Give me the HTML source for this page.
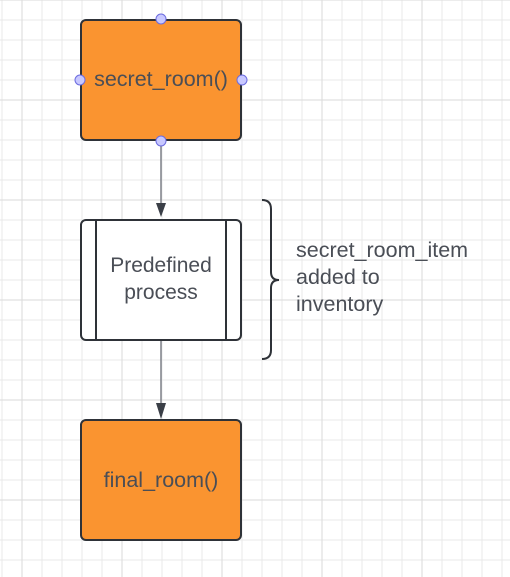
<!DOCTYPE html>
<html><head><style>
html,body{margin:0;padding:0;background:#fff;}
svg{display:block;}
text{font-family:"Liberation Sans",Arial,sans-serif;fill:#4a4e56;}
</style></head><body>
<svg width="510" height="577" viewBox="0 0 510 577" xmlns="http://www.w3.org/2000/svg">
<defs>
<pattern id="g" x="1.5" y="-0.5" width="20" height="20" patternUnits="userSpaceOnUse">
<path d="M0 0.5H20M0.5 0V20" stroke="#e8e8e8" stroke-width="1" fill="none"/>
</pattern>
<pattern id="G" x="21.5" y="-0.5" width="100" height="100" patternUnits="userSpaceOnUse">
<path d="M0 0.5H100M0.5 0V100" stroke="#dadada" stroke-width="1" fill="none"/>
</pattern>
</defs>
<rect width="510" height="577" fill="url(#g)"/>
<rect width="510" height="577" fill="url(#G)"/>

<line x1="161" y1="140" x2="161" y2="204" stroke="#7d8088" stroke-width="1.5"/>
<polygon points="156,203 166,203 161,217" fill="#3a3f47"/>
<line x1="161" y1="340" x2="161" y2="404" stroke="#7d8088" stroke-width="1.5"/>
<polygon points="156,403 166,403 161,419" fill="#3a3f47"/>

<rect x="81" y="20" width="160" height="120" rx="5" fill="#fa9430" stroke="#2e3238" stroke-width="2"/>
<text x="161" y="86" font-size="21.5" text-anchor="middle">secret_room()</text>
<g fill="#c8c8ff" stroke="#6b6bdf" stroke-width="1">
<circle cx="161" cy="19" r="5"/><circle cx="161" cy="141" r="5"/>
<circle cx="80" cy="80" r="5"/><circle cx="242" cy="80" r="5"/>
</g>

<rect x="81" y="220" width="160" height="120" rx="5" fill="#fff" stroke="#2e3238" stroke-width="2"/>
<line x1="96" y1="220" x2="96" y2="340" stroke="#2e3238" stroke-width="2"/>
<line x1="226" y1="220" x2="226" y2="340" stroke="#2e3238" stroke-width="2"/>
<text x="161" y="272" font-size="21" text-anchor="middle">Predefined</text>
<text x="161" y="299" font-size="21" text-anchor="middle">process</text>

<rect x="81" y="420" width="160" height="120" rx="5" fill="#fa9430" stroke="#2e3238" stroke-width="2"/>
<text x="161" y="487" font-size="21.5" text-anchor="middle">final_room()</text>

<path d="M262 200 Q271 200 271 209 V272 Q271 280 279 280 Q271 280 271 288 V350 Q271 359 262 359" fill="none" stroke="#2e3238" stroke-width="2"/>
<text x="296" y="257" font-size="21.5">secret_room_item</text>
<text x="296" y="284" font-size="21.5">added to</text>
<text x="296" y="311" font-size="21.5">inventory</text>
</svg>
</body></html>
